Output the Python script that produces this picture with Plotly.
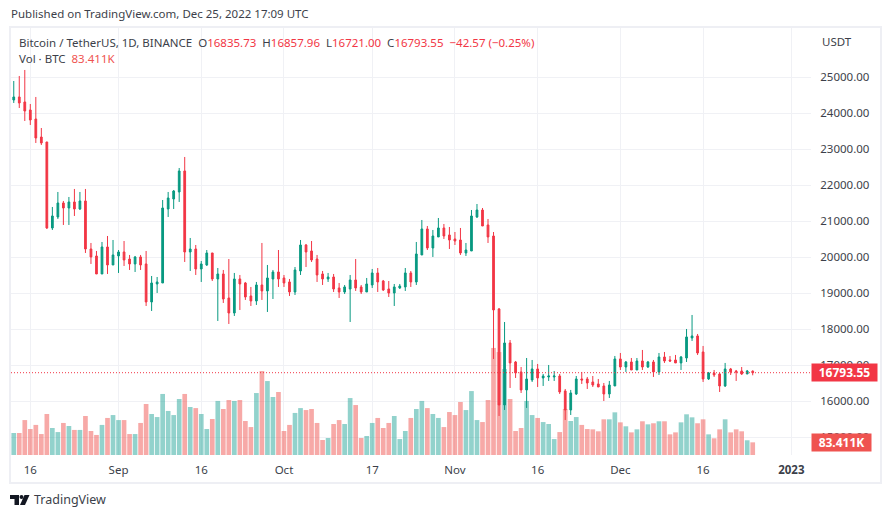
import pandas as pd
import plotly.graph_objects as go

# daily BTCUSDT candles, 13 Aug - 25 Dec 2022
start_date = "2022-08-13"

opens = [24369, 24453, 24314, 24092, 23841, 23341, 23203, 20814, 21119, 21508, 21369, 21536, 21341, 21564, 20230,
         20036, 19536, 20286, 19786, 20036, 20147, 19952, 19814, 20008, 19814, 18758, 19258, 19286, 21341, 21619,
         21814, 22397, 20147, 20230, 19675, 19786, 20119, 19397, 19536, 18869, 18452, 19397, 19286, 18925, 18786,
         19230, 19064, 19397, 19591, 19425, 19314, 19036, 19619, 20341, 20175, 19952, 19536, 19397, 19452, 19147,
         19036, 19119, 19369, 19175, 19036, 19230, 19564, 19341, 19119, 19008, 19147, 19175, 19564, 19314, 20064,
         20786, 20258, 20564, 20814, 20619, 20508, 20480, 20119, 20175, 21119, 21313, 20897, 20591, 18564, 15897,
         17619, 17091, 16814, 16314, 16591, 16897, 16647, 16675, 16675, 16702, 16286, 15758, 16202, 16619, 16619,
         16536, 16480, 16425, 16202, 16425, 17175, 16952, 17091, 16869, 17119, 16952, 17091, 16814, 17230, 17147,
         17147, 17064, 17202, 17758, 17814, 17369, 16619, 16786, 16758, 16425, 16897, 16841, 16841, 16758, 16835.73]
highs = [24897, 25036, 25203, 24258, 24453, 23591, 23203, 21397, 21814, 21564, 21675, 21897, 21814, 21897, 20397,
         20175, 20425, 20591, 20480, 20202, 20452, 20064, 20036, 20064, 20175, 19480, 19452, 21591, 21814, 21869,
         22480, 22786, 20536, 20341, 19897, 20202, 20119, 19702, 19647, 19952, 19564, 19508, 19314, 19175, 19314,
         20397, 19786, 19647, 20202, 19508, 19397, 19730, 20480, 20369, 20452, 20064, 19619, 19564, 19536, 19286,
         19230, 19508, 19952, 19230, 19425, 19675, 19702, 19369, 19341, 19258, 19258, 19702, 19619, 20425, 21036,
         20869, 20758, 21091, 20925, 20841, 20702, 20814, 20397, 21313, 21480, 21369, 21064, 20702, 18591, 18202,
         17702, 17119, 16952, 17202, 17147, 17036, 16758, 17008, 16841, 16758, 16341, 16314, 16702, 16814, 16675,
         16702, 16619, 16508, 16564, 17258, 17341, 17119, 17202, 17202, 17425, 17119, 17147, 17341, 17369, 17258,
         17286, 17258, 18008, 18397, 17869, 17536, 16814, 16869, 16786, 17064, 16925, 16869, 16952, 16869, 16857.96]
lows = [24286, 24147, 23786, 23675, 23175, 23119, 20786, 20758, 21064, 20897, 20897, 21147, 21313, 20119, 19814,
        19536, 19536, 19536, 19786, 19564, 19758, 19647, 19591, 19647, 18647, 18508, 19008, 19286, 21119, 21341,
        21536, 19869, 19619, 19508, 19314, 19758, 19341, 18230, 18730, 18147, 18369, 18536, 18814, 18647, 18675,
        18814, 18480, 18841, 19175, 19175, 18925, 18952, 19508, 19730, 19869, 19314, 19230, 19314, 19036, 18869,
        18980, 18202, 19064, 18980, 19036, 19147, 19036, 19064, 18897, 18647, 19119, 19064, 19175, 19230, 20064,
        20202, 20008, 20564, 20508, 20230, 20341, 20064, 20036, 20175, 21091, 20869, 20397, 17175, 15591, 15758,
        16369, 16647, 16230, 15814, 16536, 16397, 16425, 16564, 16564, 16202, 15480, 15619, 16175, 16480, 16341,
        16397, 16397, 16008, 16091, 16425, 16869, 16814, 16869, 16869, 16869, 16925, 16675, 16730, 17064, 17091,
        17064, 16869, 17091, 17675, 17286, 16536, 16591, 16675, 16258, 16397, 16730, 16564, 16730, 16758, 16721.00]
closes = [24453, 24286, 24064, 23814, 23314, 23175, 20814, 21147, 21508, 21369, 21536, 21341, 21564, 20230, 20008,
          19536, 20286, 19786, 20064, 20147, 19925, 19814, 20008, 19786, 18758, 19286, 19314, 21369, 21647, 21841,
          22397, 20147, 20230, 19675, 19814, 20119, 19397, 19536, 18841, 18452, 19397, 19258, 18897, 18786, 19230,
          19064, 19425, 19591, 19397, 19286, 19036, 19647, 20341, 20147, 19925, 19508, 19397, 19452, 19119, 19036,
          19175, 19369, 19147, 19036, 19258, 19564, 19314, 19091, 19008, 19175, 19202, 19564, 19314, 20091, 20786,
          20258, 20591, 20814, 20591, 20480, 20452, 20119, 20202, 21147, 21313, 20869, 20564, 18536, 15897, 17619,
          17064, 16786, 16314, 16619, 16897, 16647, 16702, 16702, 16702, 16258, 15758, 16230, 16619, 16591, 16508,
          16452, 16397, 16202, 16452, 17175, 16952, 17091, 16869, 17119, 16952, 17091, 16814, 17230, 17119, 17119,
          17064, 17230, 17786, 17814, 17341, 16619, 16786, 16730, 16425, 16897, 16814, 16814, 16758, 16841, 16793.55]
volumes = [145, 145, 230, 171, 198, 138, 270, 178, 151, 211, 191, 165, 165, 257, 158,
           132, 198, 244, 263, 230, 230, 138, 138, 211, 336, 270, 250, 402, 290, 263,
           369, 402, 316, 309, 270, 171, 237, 356, 303, 362, 356, 362, 224, 184, 408,
           553, 487, 382, 415, 158, 198, 277, 309, 296, 303, 211, 99, 112, 204, 230,
           204, 375, 329, 112, 125, 211, 244, 178, 211, 257, 105, 158, 244, 303, 356,
           309, 270, 244, 184, 283, 263, 349, 296, 421, 230, 217, 362, 705, 678, 566,
           369, 158, 178, 356, 263, 244, 217, 204, 105, 151, 303, 224, 250, 198, 171,
           169, 156, 235, 235, 281, 215, 189, 149, 169, 222, 202, 209, 222, 222, 136,
           149, 215, 268, 248, 209, 235, 136, 110, 169, 235, 149, 169, 156, 97, 83.411]

tick_dates = ["2022-08-16", "2022-09-01", "2022-09-16", "2022-10-01", "2022-10-17",
              "2022-11-01", "2022-11-16", "2022-12-01", "2022-12-16", "2023-01-01"]
tick_labels = ["16", "Sep", "16", "Oct", "17", "Nov", "16", "Dec", "16", "<b>2023</b>"]
price_ticks = [15000, 16000, 17000, 18000, 19000, 20000, 21000, 22000, 23000, 24000, 25000]

UP = "#089981"
DOWN = "#f23645"
GRID = "#f0f1f5"
TEXT = "#3c3f4a"
FONT = "Noto Sans"

WIDTH, HEIGHT = 891, 518
LEFT, RIGHT, TOP, BOTTOM = 11, 811, 28, 455


def px_x(x):
    return (x - LEFT) / (RIGHT - LEFT)


def px_y(y):
    return (BOTTOM - y) / (BOTTOM - TOP)


def label(x, y, text, size=11.5, color=TEXT):
    fig.add_annotation(x=px_x(x), y=px_y(y), xref="paper", yref="paper", text=text, showarrow=False,
                       xanchor="left", yanchor="middle", align="left", borderpad=0,
                       font=dict(family=FONT, size=size, color=color))


dates = pd.date_range(start_date, periods=len(closes), freq="D")
vol_colors = ["rgba(38,166,154,0.5)" if c >= o else "rgba(239,83,80,0.5)" for o, c in zip(opens, closes)]

fig = go.Figure()
fig.add_trace(go.Bar(x=dates, y=volumes, marker=dict(color=vol_colors, line=dict(width=0)), yaxis="y"))
fig.add_trace(go.Candlestick(x=dates, open=opens, high=highs, low=lows, close=closes, yaxis="y2",
                             increasing=dict(line=dict(color=UP, width=1), fillcolor=UP),
                             decreasing=dict(line=dict(color=DOWN, width=1), fillcolor=DOWN),
                             whiskerwidth=0))

fig.update_layout(
    width=WIDTH, height=HEIGHT,
    margin=dict(l=LEFT, r=WIDTH - RIGHT, t=TOP, b=HEIGHT - BOTTOM),
    paper_bgcolor="white", plot_bgcolor="white",
    showlegend=False, bargap=0.15, boxgap=0.55,
    font=dict(family=FONT, size=11.5, color=TEXT),
    xaxis=dict(type="date", range=["2022-08-12 12:00", "2023-01-04 13:40"], tickmode="array",
               tickvals=tick_dates, ticktext=tick_labels, ticks="outside", ticklen=4, tickcolor="white",
               showgrid=True, gridcolor=GRID, gridwidth=1, zeroline=False, showline=False,
               rangeslider=dict(visible=False), tickfont=dict(family=FONT, size=11.5, color=TEXT)),
    yaxis=dict(range=[0, 2812], visible=False, showgrid=False, zeroline=False),
    yaxis2=dict(range=[14507, 26369], overlaying="y", side="right", tickmode="array", tickvals=price_ticks,
                ticktext=[f"{p:.2f}" for p in price_ticks], showgrid=True, gridcolor=GRID, gridwidth=1,
                zeroline=False, showline=False, ticks="outside", ticklen=6, tickcolor="white",
                tickfont=dict(family=FONT, size=11.5, color=TEXT)),
)

# last price line
fig.add_shape(type="line", xref="paper", yref="y2", x0=0, x1=1, y0=closes[-1], y1=closes[-1],
              line=dict(color=DOWN, width=1, dash="1px,2px"))

# outer frame
fig.add_shape(type="rect", xref="paper", yref="paper", x0=px_x(10), x1=px_x(881), y0=px_y(27), y1=px_y(483),
              line=dict(color="#eeeff4", width=2), layer="below")

# last value tags
fig.add_annotation(x=1, y=closes[-1], xref="paper", yref="y2", text="<b>16793.55</b>", showarrow=False,
                   xanchor="left", yanchor="middle", width=65, height=17, bgcolor=DOWN, borderpad=0,
                   font=dict(family=FONT, size=12, color="white"))
fig.add_annotation(x=1, y=volumes[-1], xref="paper", yref="y", text="<b>83.411K</b>", showarrow=False,
                   xanchor="left", yanchor="middle", width=59, height=17, bgcolor="#ef5350", borderpad=0,
                   font=dict(family=FONT, size=12, color="white"))

red = '<span style="color:#f23645">%s</span>'
label(10, 14, "Published on TradingView.com, Dec 25, 2022 17:09 UTC")
label(18, 42, "Bitcoin / TetherUS, 1D, BINANCE  O" + red % "16835.73" + "  H" + red % "16857.96"
      + "  L" + red % "16721.00" + "  C" + red % "16793.55" + "  " + red % "\u221242.57 (\u22120.25%)")
label(18, 59, 'Vol \u00b7 BTC  <span style="color:#ef5350">83.411K</span>')
label(821, 41, "USDT")
label(33, 500, "TradingView", size=12.5)

# TradingView mark
logo = "#131722"
fig.add_shape(type="path", xref="paper", yref="paper", fillcolor=logo, line=dict(width=0),
              path=f"M {px_x(10)} {px_y(495)} L {px_x(19)} {px_y(495)} L {px_x(19)} {px_y(505)} L {px_x(14.5)} {px_y(505)}"
                   f" L {px_x(14.5)} {px_y(499)} L {px_x(10)} {px_y(499)} Z")
fig.add_shape(type="circle", xref="paper", yref="paper", fillcolor=logo, line=dict(width=0),
              x0=px_x(19.5), x1=px_x(23.5), y0=px_y(495), y1=px_y(499))
fig.add_shape(type="path", xref="paper", yref="paper", fillcolor=logo, line=dict(width=0),
              path=f"M {px_x(24.5)} {px_y(495)} L {px_x(29.5)} {px_y(495)} L {px_x(25)} {px_y(505)} L {px_x(20)} {px_y(505)} Z")

fig.write_html("out.html", config=dict(displayModeBar=False),
               post_script="document.body.style.margin='0';document.body.style.overflow='hidden';")
